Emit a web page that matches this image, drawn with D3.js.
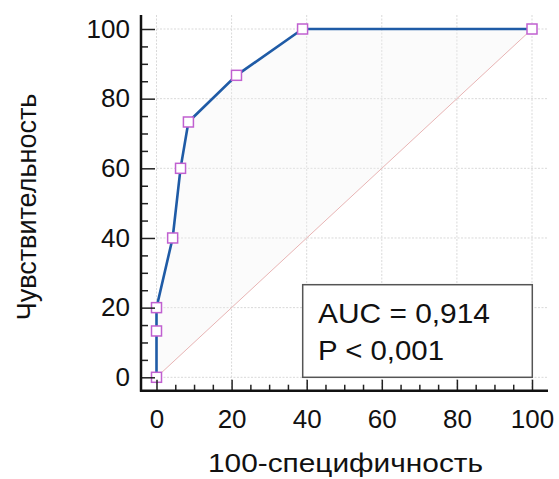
<!DOCTYPE html>
<html>
<head>
<meta charset="utf-8">
<script src="https://cdn.jsdelivr.net/npm/d3@7"></script>
<style>
  body { margin: 0; background: #fff; }
  text { font-family: "Liberation Sans", Arial, sans-serif; fill: #111; }
</style>
</head>
<body>
<div id="roc"></div>
<script>
// ROC curve points (100-specificity, sensitivity)
var fpr  = [0, 0, 0, 4.3, 6.4, 8.5, 21.3, 38.9, 100];
var sens = [0, 13.3, 20, 40, 60, 73.3, 86.7, 100, 100];
var majorTicks = [0, 20, 40, 60, 80, 100];
var legendLines = ["AUC = 0,914", "P < 0,001"];

var W = 559, H = 479;

var svg = d3.select("#roc")
  .append("svg")
    .attr("width", W)
    .attr("height", H);

var x = d3.scaleLinear().domain([0, 100]).range([156.5, 532]);
var y = d3.scaleLinear().domain([0, 100]).range([377.3, 29]);

var axisX = 141, axisY = 390.7, frameTop = 15, frameRight = 548;

var minorTicks = d3.range(0, 101, 5).filter(function(d) { return d % 20 != 0; });

// grid
var grid = svg.append("g")
  .attr("stroke", "#d9d9d9")
  .attr("stroke-width", 1)
  .attr("stroke-dasharray", "2,1.5");
grid.selectAll("line.gx")
  .data(majorTicks)
  .enter().append("line")
    .attr("x1", function(d) { return x(d); })
    .attr("x2", function(d) { return x(d); })
    .attr("y1", frameTop)
    .attr("y2", axisY);
grid.selectAll("line.gy")
  .data(majorTicks)
  .enter().append("line")
    .attr("x1", x(0))
    .attr("x2", frameRight)
    .attr("y1", function(d) { return y(d); })
    .attr("y2", function(d) { return y(d); });

var pts = fpr.map(function(d, i) { return [d, sens[i]]; });

// shaded area between curve and diagonal (very faint)
var areaPts = pts.concat([[0, 0]]);
svg.append("path")
  .datum(areaPts)
  .attr("fill", "#f2f2f2")
  .attr("fill-opacity", 0.3)
  .attr("d", d3.line()
    .x(function(d) { return x(d[0]); })
    .y(function(d) { return y(d[1]); }));

// diagonal reference
svg.append("line")
  .attr("x1", x(0)).attr("y1", y(0))
  .attr("x2", x(100)).attr("y2", y(100))
  .attr("stroke", "#e8b4b4")
  .attr("stroke-width", 1);

// ROC line
svg.append("path")
  .datum(pts)
  .attr("fill", "none")
  .attr("stroke", "#1f5ba6")
  .attr("stroke-width", 2.6)
  .attr("d", d3.line()
    .x(function(d) { return x(d[0]); })
    .y(function(d) { return y(d[1]); }));

// markers
svg.append("g")
  .selectAll("rect")
  .data(pts)
  .enter().append("rect")
    .attr("x", function(d) { return x(d[0]) - 5; })
    .attr("y", function(d) { return y(d[1]) - 5; })
    .attr("width", 10)
    .attr("height", 10)
    .attr("fill", "#fff")
    .attr("stroke", "#c060d0")
    .attr("stroke-width", 1.5);

// axes
var gx = svg.append("g")
  .attr("transform", "translate(0," + axisY + ")")
  .call(d3.axisBottom(x).tickValues(majorTicks).tickSize(-11).tickPadding(19));
var gxm = svg.append("g")
  .attr("transform", "translate(0," + axisY + ")")
  .call(d3.axisBottom(x).tickValues(minorTicks).tickSize(-6).tickFormat(""));
var gy = svg.append("g")
  .attr("transform", "translate(" + axisX + ",0)")
  .call(d3.axisLeft(y).tickValues(majorTicks).tickSize(-14).tickPadding(11));
var gym = svg.append("g")
  .attr("transform", "translate(" + axisX + ",0)")
  .call(d3.axisLeft(y).tickValues(minorTicks).tickSize(-7).tickFormat(""));

[gx, gxm, gy, gym].forEach(function(g) {
  g.select(".domain").remove();
  g.selectAll(".tick line").attr("stroke", "#222").attr("stroke-width", 1.5);
  g.selectAll(".tick text").style("font-size", "26px").attr("fill", "#111");
});

svg.append("line")
  .attr("x1", axisX).attr("x2", axisX)
  .attr("y1", frameTop).attr("y2", axisY + 1)
  .attr("stroke", "#111").attr("stroke-width", 2.5);
svg.append("line")
  .attr("x1", axisX - 1).attr("x2", frameRight)
  .attr("y1", axisY).attr("y2", axisY)
  .attr("stroke", "#111").attr("stroke-width", 2.5);

// axis titles
svg.append("text")
  .attr("x", 208)
  .attr("y", 472)
  .attr("textLength", 275)
  .attr("lengthAdjust", "spacingAndGlyphs")
  .style("font-size", "26px")
  .text("100-специфичность");

svg.append("text")
  .attr("transform", "translate(36,207) rotate(-90)")
  .attr("text-anchor", "middle")
  .style("font-size", "27px")
  .text("Чувствительность");

// legend box
svg.append("rect")
  .attr("x", 302.7)
  .attr("y", 284.7)
  .attr("width", 229.6)
  .attr("height", 92.6)
  .attr("fill", "#fff")
  .attr("stroke", "#555")
  .attr("stroke-width", 1.5);

var legendWidths = [172, 126];
svg.selectAll("text.leg")
  .data(legendLines)
  .enter().append("text")
    .attr("class", "leg")
    .attr("x", 318)
    .attr("y", function(d, i) { return 323 + i * 36.5; })
    .attr("textLength", function(d, i) { return legendWidths[i]; })
    .attr("lengthAdjust", "spacingAndGlyphs")
    .style("font-size", "28px")
    .text(function(d) { return d; });
</script>
</body>
</html>
